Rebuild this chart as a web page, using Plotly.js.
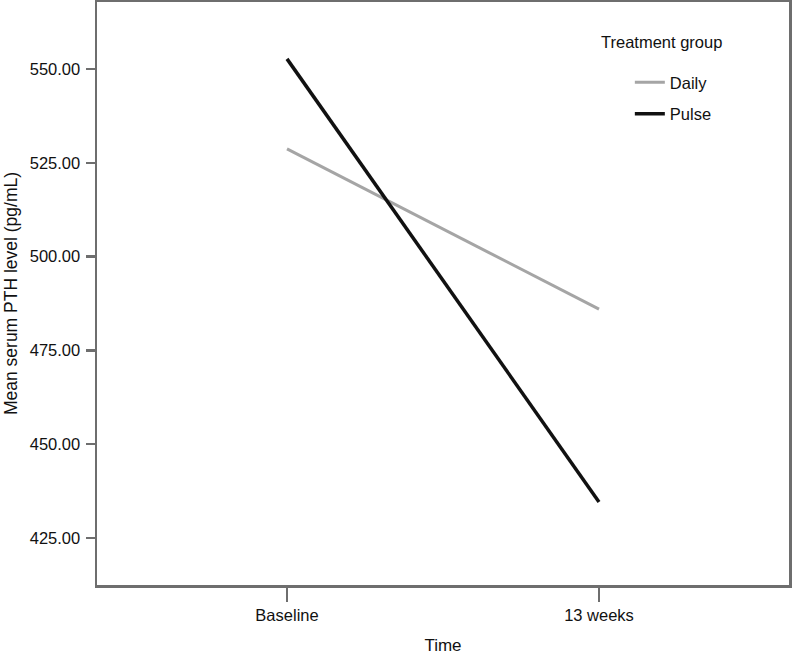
<!DOCTYPE html>
<html>
<head>
<meta charset="utf-8">
<script src="https://cdn.plot.ly/plotly-3.0.1.min.js"></script>
<style>body{margin:0;padding:0;background:#fff;}#chart{width:792px;height:655px;}</style>
</head>
<body>
<div id="chart"></div>
<script>
const timepoints = ["Baseline", "13 weeks"];
const dailyValues = [528.7, 486.0];
const pulseValues = [552.7, 434.6];
const yTickValues = [425, 450, 475, 500, 525, 550];
const yTickLabels = ["425.00", "450.00", "475.00", "500.00", "525.00", "550.00"];
const legendTitle = "Treatment group";

const FONT = "Liberation Sans, Arial, sans-serif";
const AXISCOLOR = "#6e6e6e";

const traces = [
  {x: timepoints, y: dailyValues, name: "Daily", type: "scatter", mode: "lines",
   legendgroup: "g1", line: {color: "#a5a5a5", width: 3}},
  {x: timepoints, y: pulseValues, name: "Pulse", type: "scatter", mode: "lines",
   legendgroup: "g2", line: {color: "#111111", width: 3.5}}
];

const layout = {
  width: 792, height: 655,
  margin: {l: 97, r: 3, t: 2, b: 70},
  paper_bgcolor: "#ffffff", plot_bgcolor: "#ffffff",
  font: {family: FONT, size: 16.5, color: "#111"},
  showlegend: true,
  legend: {
    x: 0.77, y: 0.892, xanchor: "left", yanchor: "top",
    bgcolor: "rgba(0,0,0,0)",
    font: {size: 16.5, family: FONT, color: "#111"},
    traceorder: "grouped",
    tracegroupgap: 7
  },
  annotations: [{
    text: legendTitle, xref: "paper", yref: "paper",
    x: 0.725, y: 0.912, xanchor: "left", yanchor: "bottom",
    showarrow: false, font: {size: 16.5, family: FONT, color: "#111"}
  }],
  xaxis: {
    type: "category",
    range: [-0.609, 1.609],
    showgrid: false, zeroline: false,
    showline: true, mirror: true, linecolor: AXISCOLOR, linewidth: 2.5,
    ticks: "outside", ticklen: 14, tickwidth: 2.5, tickcolor: AXISCOLOR,
    tickfont: {size: 16.5, family: FONT, color: "#111"},
    title: {text: "Time", font: {size: 17, family: FONT, color: "#111"}, standoff: 18}
  },
  yaxis: {
    range: [412.47, 567.86],
    tickvals: yTickValues, ticktext: yTickLabels,
    showgrid: false, zeroline: false,
    showline: true, mirror: true, linecolor: AXISCOLOR, linewidth: 2.5,
    ticks: "outside", ticklen: 9, tickwidth: 2.5, tickcolor: AXISCOLOR,
    ticklabelstandoff: 2,
    tickfont: {size: 16.5, family: FONT, color: "#111"},
    title: {text: "Mean serum PTH level (pg/mL)", font: {size: 17.5, family: FONT, color: "#111"}, standoff: 8}
  }
};

Plotly.newPlot("chart", traces, layout, {displayModeBar: false, staticPlot: true});
</script>
</body>
</html>
